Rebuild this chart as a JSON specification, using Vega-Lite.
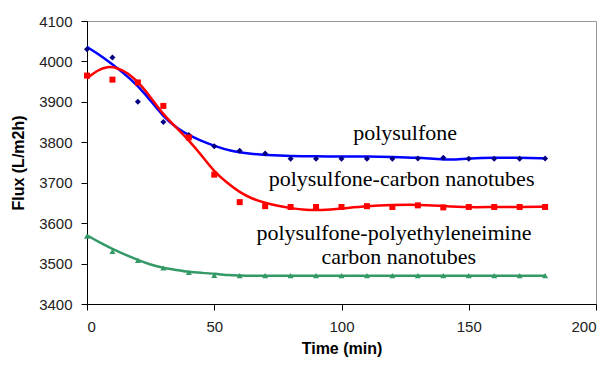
{
  "$schema": "https://vega.github.io/schema/vega-lite/v6.json",
  "autosize": {"type": "none"},
  "width": 509,
  "height": 283,
  "padding": {"left": 87, "top": 21, "right": 15, "bottom": 61},
  "background": "white",
  "config": {
    "view": {"stroke": "#999999", "strokeWidth": 1},
    "axis": {
      "grid": false,
      "domainColor": "#000000",
      "domainWidth": 1,
      "tickColor": "#000000",
      "tickSize": 6,
      "labelFont": "Liberation Sans",
      "labelFontSize": 15,
      "labelColor": "#222222",
      "titleFont": "Liberation Sans",
      "titleFontSize": 16,
      "titleFontWeight": "bold",
      "titleColor": "#000000"
    }
  },
  "datasets": {
    "points": [
      {"series": "A", "time": 0, "flux": 4030}, {"series": "A", "time": 10, "flux": 4010}, {"series": "A", "time": 20, "flux": 3900}, {"series": "A", "time": 30, "flux": 3850}, {"series": "A", "time": 40, "flux": 3818}, {"series": "A", "time": 50, "flux": 3790}, {"series": "A", "time": 60, "flux": 3779}, {"series": "A", "time": 70, "flux": 3772}, {"series": "A", "time": 80, "flux": 3759}, {"series": "A", "time": 90, "flux": 3759}, {"series": "A", "time": 100, "flux": 3759}, {"series": "A", "time": 110, "flux": 3759}, {"series": "A", "time": 120, "flux": 3759}, {"series": "A", "time": 130, "flux": 3760}, {"series": "A", "time": 140, "flux": 3762}, {"series": "A", "time": 150, "flux": 3759}, {"series": "A", "time": 160, "flux": 3759}, {"series": "A", "time": 170, "flux": 3759}, {"series": "A", "time": 180, "flux": 3760},
      {"series": "B", "time": 0, "flux": 3965}, {"series": "B", "time": 10, "flux": 3955}, {"series": "B", "time": 20, "flux": 3948}, {"series": "B", "time": 30, "flux": 3890}, {"series": "B", "time": 40, "flux": 3812}, {"series": "B", "time": 50, "flux": 3720}, {"series": "B", "time": 60, "flux": 3652}, {"series": "B", "time": 70, "flux": 3642}, {"series": "B", "time": 80, "flux": 3640}, {"series": "B", "time": 90, "flux": 3640}, {"series": "B", "time": 100, "flux": 3640}, {"series": "B", "time": 110, "flux": 3642}, {"series": "B", "time": 120, "flux": 3640}, {"series": "B", "time": 130, "flux": 3644}, {"series": "B", "time": 140, "flux": 3639}, {"series": "B", "time": 150, "flux": 3640}, {"series": "B", "time": 160, "flux": 3640}, {"series": "B", "time": 170, "flux": 3640}, {"series": "B", "time": 180, "flux": 3640},
      {"series": "C", "time": 0, "flux": 3568}, {"series": "C", "time": 10, "flux": 3530}, {"series": "C", "time": 20, "flux": 3508}, {"series": "C", "time": 30, "flux": 3489}, {"series": "C", "time": 40, "flux": 3478}, {"series": "C", "time": 50, "flux": 3471}, {"series": "C", "time": 60, "flux": 3470}, {"series": "C", "time": 70, "flux": 3470}, {"series": "C", "time": 80, "flux": 3470}, {"series": "C", "time": 90, "flux": 3470}, {"series": "C", "time": 100, "flux": 3470}, {"series": "C", "time": 110, "flux": 3470}, {"series": "C", "time": 120, "flux": 3470}, {"series": "C", "time": 130, "flux": 3470}, {"series": "C", "time": 140, "flux": 3470}, {"series": "C", "time": 150, "flux": 3470}, {"series": "C", "time": 160, "flux": 3470}, {"series": "C", "time": 170, "flux": 3470}, {"series": "C", "time": 180, "flux": 3470}
    ],
    "curves": [
      {"series": "A", "time": 0, "flux": 4036}, {"series": "A", "time": 4, "flux": 4020}, {"series": "A", "time": 10, "flux": 3993}, {"series": "A", "time": 17, "flux": 3958}, {"series": "A", "time": 23, "flux": 3920}, {"series": "A", "time": 30, "flux": 3862}, {"series": "A", "time": 36, "flux": 3832}, {"series": "A", "time": 40, "flux": 3818}, {"series": "A", "time": 44, "flux": 3806}, {"series": "A", "time": 50, "flux": 3791}, {"series": "A", "time": 57, "flux": 3777}, {"series": "A", "time": 65, "flux": 3771}, {"series": "A", "time": 70, "flux": 3769}, {"series": "A", "time": 80, "flux": 3766}, {"series": "A", "time": 90, "flux": 3765}, {"series": "A", "time": 100, "flux": 3765}, {"series": "A", "time": 110, "flux": 3765}, {"series": "A", "time": 120, "flux": 3764}, {"series": "A", "time": 130, "flux": 3762}, {"series": "A", "time": 140, "flux": 3757}, {"series": "A", "time": 145, "flux": 3757}, {"series": "A", "time": 150, "flux": 3760}, {"series": "A", "time": 160, "flux": 3762}, {"series": "A", "time": 170, "flux": 3762}, {"series": "A", "time": 180, "flux": 3760},
      {"series": "B", "time": 0, "flux": 3958}, {"series": "B", "time": 4, "flux": 3978}, {"series": "B", "time": 8, "flux": 3988}, {"series": "B", "time": 12, "flux": 3984}, {"series": "B", "time": 16, "flux": 3972}, {"series": "B", "time": 20, "flux": 3950}, {"series": "B", "time": 25, "flux": 3912}, {"series": "B", "time": 30, "flux": 3868}, {"series": "B", "time": 35, "flux": 3837}, {"series": "B", "time": 40, "flux": 3805}, {"series": "B", "time": 45, "flux": 3768}, {"series": "B", "time": 50, "flux": 3727}, {"series": "B", "time": 55, "flux": 3700}, {"series": "B", "time": 60, "flux": 3676}, {"series": "B", "time": 65, "flux": 3660}, {"series": "B", "time": 70, "flux": 3650}, {"series": "B", "time": 75, "flux": 3643}, {"series": "B", "time": 80, "flux": 3637}, {"series": "B", "time": 86, "flux": 3632}, {"series": "B", "time": 92, "flux": 3632}, {"series": "B", "time": 100, "flux": 3636}, {"series": "B", "time": 110, "flux": 3642}, {"series": "B", "time": 120, "flux": 3645}, {"series": "B", "time": 130, "flux": 3646}, {"series": "B", "time": 140, "flux": 3642}, {"series": "B", "time": 150, "flux": 3639}, {"series": "B", "time": 160, "flux": 3640}, {"series": "B", "time": 170, "flux": 3640}, {"series": "B", "time": 180, "flux": 3641},
      {"series": "C", "time": 0, "flux": 3570}, {"series": "C", "time": 5, "flux": 3552}, {"series": "C", "time": 10, "flux": 3536}, {"series": "C", "time": 15, "flux": 3522}, {"series": "C", "time": 20, "flux": 3509}, {"series": "C", "time": 25, "flux": 3497}, {"series": "C", "time": 30, "flux": 3489}, {"series": "C", "time": 35, "flux": 3484}, {"series": "C", "time": 40, "flux": 3479}, {"series": "C", "time": 45, "flux": 3477}, {"series": "C", "time": 50, "flux": 3475}, {"series": "C", "time": 56, "flux": 3471}, {"series": "C", "time": 60, "flux": 3470}, {"series": "C", "time": 80, "flux": 3470}, {"series": "C", "time": 100, "flux": 3470}, {"series": "C", "time": 120, "flux": 3470}, {"series": "C", "time": 140, "flux": 3470}, {"series": "C", "time": 160, "flux": 3470}, {"series": "C", "time": 180, "flux": 3470}
    ],
    "labels": [
      {"time": 125, "flux": 3805, "label": "polysulfone"},
      {"time": 123.6, "flux": 3692, "label": "polysulfone-carbon nanotubes"},
      {"time": 120.6, "flux": 3558, "label": "polysulfone-polyethyleneimine"},
      {"time": 122.5, "flux": 3500, "label": "carbon nanotubes"}
    ]
  },
  "encoding": {
    "x": {"field": "time", "type": "quantitative", "scale": {"domain": [0, 200], "nice": false}, "axis": {"values": [0, 50, 100, 150, 200], "format": "d", "title": "Time (min)", "labelPadding": 9, "titlePadding": 6}},
    "y": {"field": "flux", "type": "quantitative", "scale": {"domain": [3400, 4100], "nice": false, "zero": false}, "axis": {"values": [3400, 3500, 3600, 3700, 3800, 3900, 4000, 4100], "format": "d", "title": "Flux (L/m2h)", "labelPadding": 9, "titlePadding": 12}}
  },
  "layer": [
    {
      "data": {"name": "curves"},
      "mark": {"type": "line", "interpolate": "basis", "strokeWidth": 2.5},
      "encoding": {
        "color": {"field": "series", "type": "nominal", "scale": {"domain": ["A", "B", "C"], "range": ["#0000FF", "#FF0000", "#339966"]}, "legend": null}
      }
    },
    {
      "data": {"name": "points"},
      "mark": {"type": "point", "filled": true, "size": 36, "opacity": 1, "strokeWidth": 0},
      "encoding": {
        "fill": {"field": "series", "type": "nominal", "scale": {"domain": ["A", "B", "C"], "range": ["#000080", "#FF0000", "#339966"]}, "legend": null},
        "shape": {"field": "series", "type": "nominal", "scale": {"domain": ["A", "B", "C"], "range": ["diamond", "square", "triangle-up"]}, "legend": null}
      }
    },
    {
      "data": {"name": "labels"},
      "mark": {"type": "text", "font": "Liberation Serif", "fontSize": 22, "baseline": "alphabetic", "align": "center", "color": "#000000"},
      "encoding": {"text": {"field": "label", "type": "nominal"}}
    }
  ]
}
